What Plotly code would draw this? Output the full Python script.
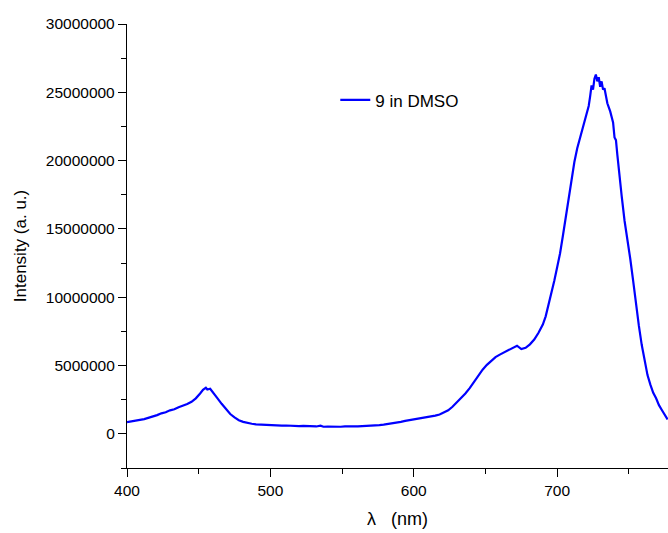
import plotly.graph_objects as go

wavelength = [400, 403, 406, 409, 412, 415, 418, 421, 424, 427, 430, 433, 436, 439, 442, 445,
              448, 451, 453, 455, 456, 458, 460, 463, 466, 469, 472, 475, 478, 481, 484, 487,
              490, 493, 496, 499, 502, 505, 508, 511, 514, 517, 520, 523, 526, 529, 532, 535,
              537, 540, 543, 546, 549, 552, 555, 558, 561, 564, 567, 570, 573, 576, 579, 582,
              585, 588, 591, 594, 597, 600, 603, 606, 609, 612, 615, 618, 621, 624, 627, 630,
              633, 636, 639, 642, 645, 648, 651, 654, 657, 660, 663, 666, 669, 672, 675, 678,
              681, 684, 687, 690, 692, 694, 696, 698, 700, 702, 704, 706, 708, 710, 712, 714,
              716, 718, 720, 722, 723, 724, 725, 726, 727, 728, 729, 730, 731, 732, 733, 734,
              735, 737, 739, 740, 741, 742, 743, 745, 747, 749, 751, 753, 755, 757, 759, 761,
              763, 765, 767, 769, 771, 773, 775, 777]
intensity_m = [0.86, 0.90, 0.93, 1.02, 1.08, 1.17, 1.25, 1.37, 1.50, 1.58, 1.72, 1.80, 1.95, 2.05, 2.18, 2.35,
               2.60, 2.95, 3.22, 3.38, 3.25, 3.30, 3.00, 2.62, 2.20, 1.80, 1.45, 1.20, 1.00, 0.88, 0.80, 0.74,
               0.70, 0.68, 0.66, 0.63, 0.64, 0.61, 0.60, 0.61, 0.58, 0.59, 0.56, 0.58, 0.55, 0.56, 0.54, 0.60,
               0.52, 0.53, 0.51, 0.54, 0.52, 0.55, 0.53, 0.55, 0.54, 0.57, 0.58, 0.60, 0.61, 0.64, 0.68, 0.72,
               0.77, 0.82, 0.88, 0.95, 1.00, 1.06, 1.12, 1.18, 1.20, 1.26, 1.33, 1.42, 1.55, 1.72, 1.98, 2.30,
               2.62, 2.95, 3.35, 3.80, 4.25, 4.70, 5.05, 5.35, 5.62, 5.80, 5.95, 6.15, 6.25, 6.45, 6.20, 6.30,
               6.55, 6.90, 7.40, 8.00, 8.60, 9.40, 10.30, 11.20, 12.20, 13.20, 14.50, 15.90, 17.30, 18.60, 19.90, 20.90,
               21.70, 22.50, 23.10, 24.00, 24.70, 25.50, 25.20, 26.00, 26.30, 25.80, 26.10, 25.40, 25.80, 25.20, 25.30, 24.60,
               24.20, 23.60, 22.80, 21.70, 21.50, 20.40, 19.20, 17.40, 15.60, 14.30, 12.80, 11.20, 9.40, 7.90, 6.50, 5.30,
               4.30, 3.60, 3.00, 2.60, 2.10, 1.75, 1.35, 1.05]
intensity = [v * 1e6 for v in intensity_m]

series_name = "9 in DMSO"
x_title = "λ   (nm)"
y_title = "Intensity (a. u.)"

FONT = "Liberation Sans, Arial, sans-serif"

fig = go.Figure()
fig.add_trace(go.Scatter(x=wavelength, y=intensity, mode="lines", name=series_name,
                         line=dict(color="#0000FF", width=2.2)))

fig.update_layout(
    width=668, height=533,
    margin=dict(l=127, r=0, t=24, b=65),
    paper_bgcolor="white", plot_bgcolor="white",
    font=dict(family=FONT, color="black", size=15),
    showlegend=True,
    legend=dict(x=0.385, y=0.828, xanchor="left", yanchor="middle",
                font=dict(size=17, family=FONT), bgcolor="rgba(0,0,0,0)"),
)
fig.update_xaxes(range=[400, 777.3], showline=True, linecolor="black", linewidth=1.3,
                 ticks="outside", ticklen=8, tickwidth=1.3, tickcolor="black",
                 dtick=100, tick0=400, showgrid=False, zeroline=False,
                 minor=dict(ticks="outside", ticklen=5, dtick=50, tickcolor="black", tickwidth=1.3),
                 tickfont=dict(size=15.5),
                 title=dict(text=x_title, font=dict(size=18), standoff=14))
fig.update_yaxes(range=[-2.5e6, 30e6], showline=True, linecolor="black", linewidth=1.3,
                 ticks="outside", ticklen=8, tickwidth=1.3, tickcolor="black",
                 dtick=5e6, tick0=0, tickformat="d", showgrid=False, zeroline=False,
                 minor=dict(ticks="outside", ticklen=5, dtick=2.5e6, tickcolor="black", tickwidth=1.3),
                 tickfont=dict(size=15.5),
                 title=dict(text=y_title, font=dict(size=17), standoff=14))

fig.write_html("out.html")
